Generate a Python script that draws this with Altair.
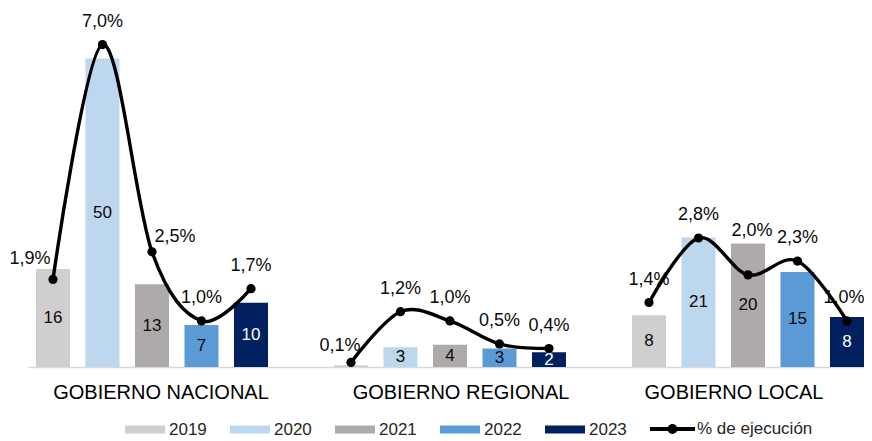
import altair as alt
import pandas as pd

groups = ["GOBIERNO NACIONAL", "GOBIERNO REGIONAL", "GOBIERNO LOCAL"]
years = ["2019", "2020", "2021", "2022", "2023"]
amounts_nacional = [15.9, 50, 13.4, 6.8, 10.4]
amounts_regional = [0.3, 3.2, 3.6, 3.0, 2.4]
amounts_local = [8.4, 21, 20, 15.4, 8.1]
pct_nacional = [1.9, 7.0, 2.5, 1.0, 1.7]
pct_regional = [0.1, 1.2, 1.0, 0.5, 0.4]
pct_local = [1.4, 2.8, 2.0, 2.3, 1.0]
year_colors = ["#D0CECE", "#BDD7EE", "#AEAAAA", "#5B9BD5", "#002060"]
line_name = "% de ejecución"

rows = []
for g, amts, pcts in zip(groups,
                         [amounts_nacional, amounts_regional, amounts_local],
                         [pct_nacional, pct_regional, pct_local]):
    for y, a, p in zip(years, amts, pcts):
        rows.append({"grupo": g, "anio": y, "monto": a, "pct": p, "serie": line_name})
df = pd.DataFrame(rows)

FONT = "Liberation Sans"
W, H = 836, 345.5

label_offset = {
    "condition": [
        {"test": "datum.value == 'GOBIERNO NACIONAL'", "value": 9},
        {"test": "datum.value == 'GOBIERNO REGIONAL'", "value": 11},
    ],
    "value": -14,
}

x_enc = alt.X("grupo:N", sort=groups, title=None,
              scale=alt.Scale(paddingInner=0.2215, paddingOuter=0.0134, align=1),
              axis=alt.Axis(labelAngle=0, ticks=False, domainColor="#D9D9D9",
                            domainWidth=1.3, labelFontSize=20, labelColor="black",
                            labelPadding=15, labelFont=FONT, grid=False, labelLimit=0,
                            labelOffset=label_offset))
xo_enc = alt.XOffset("anio:N", sort=years,
                     scale=alt.Scale(paddingInner=0.313, paddingOuter=0))

bar_scale = alt.Scale(domain=[0, 56], nice=False, zero=True)
pct_scale = alt.Scale(domain=[0, 7.5], nice=False, zero=True)

base = alt.Chart(df)

bars = base.mark_bar().encode(
    x=x_enc, xOffset=xo_enc,
    y=alt.Y("monto:Q", scale=bar_scale, axis=None),
    color=alt.Color("anio:N", sort=years,
                    scale=alt.Scale(domain=years, range=year_colors),
                    legend=alt.Legend(title=None, orient="none", direction="horizontal",
                                      legendX=97, legendY=388,
                                      symbolType="M-1,-0.2H1V0.2H-1Z", symbolSize=1600,
                                      symbolStrokeWidth=0, labelFontSize=17, labelFont=FONT,
                                      labelColor="#262626", labelOffset=4, columnPadding=23)),
)

bar_text = base.transform_filter("datum.monto >= 1").transform_calculate(
    mid="datum.monto / 2", lbl="format(datum.monto, '.0f')"
).mark_text(fontSize=17, font=FONT, baseline="middle").encode(
    x=x_enc, xOffset=xo_enc,
    y=alt.Y("mid:Q", scale=bar_scale, axis=None),
    text="lbl:N",
    color=alt.condition("datum.anio == '2023'", alt.value("white"), alt.value("#0a0a0a")),
)

line = base.mark_line(interpolate="cardinal", color="black", strokeWidth=3.4).encode(
    x=x_enc, xOffset=xo_enc,
    y=alt.Y("pct:Q", scale=pct_scale, axis=None),
    detail="grupo:N",
)

points = base.mark_point(filled=True, size=85, opacity=1).encode(
    x=x_enc, xOffset=xo_enc,
    y=alt.Y("pct:Q", scale=pct_scale, axis=None),
    color=alt.Color("serie:N", scale=alt.Scale(domain=[line_name], range=["black"]),
                    legend=alt.Legend(title=None, orient="none", direction="horizontal",
                                      legendX=622, legendY=385,
                                      symbolType="M-1,-0.09H1V0.09H-1Z M-0.22,0A0.22,0.22 0 1,1 0.22,0A0.22,0.22 0 1,1 -0.22,0Z",
                                      symbolSize=2025, symbolStrokeWidth=0,
                                      labelFontSize=17, labelFont=FONT, labelColor="#262626",
                                      labelOffset=2)),
)

pct_base = base.transform_calculate(
    lbl="replace(format(datum.pct, '.1f'), '.', ',') + '%'"
)

special = {
    ("GOBIERNO NACIONAL", "2019"): (-23, -20),
    ("GOBIERNO NACIONAL", "2021"): (23, -15),
    ("GOBIERNO LOCAL", "2021"): (4, -44),
    ("GOBIERNO REGIONAL", "2019"): (-11, -16),
    ("GOBIERNO LOCAL", "2023"): (-3, -23),
}

def pct_layer(filter_expr, dx, dy):
    return pct_base.transform_filter(filter_expr).mark_text(
        fontSize=18, font=FONT, color="#0a0a0a", baseline="middle", dx=dx, dy=dy
    ).encode(
        x=x_enc, xOffset=xo_enc,
        y=alt.Y("pct:Q", scale=pct_scale, axis=None),
        text="lbl:N",
    )

conds = [f"(datum.grupo == '{g}' && datum.anio == '{y}')" for (g, y) in special]
pct_layers = [pct_layer(f"!({' || '.join(conds)})", 0, -23)]
for (g, y), (dx, dy) in special.items():
    pct_layers.append(pct_layer(f"datum.grupo == '{g}' && datum.anio == '{y}'", dx, dy))

chart = alt.layer(bars, bar_text, line, points, *pct_layers).resolve_scale(
    y="independent", color="independent"
).properties(
    width=W, height=H,
    background="white",
    padding={"left": 20, "top": 13.5, "right": 0, "bottom": 74},
    autosize=alt.AutoSizeParams(type="none"),
).configure_view(
    strokeWidth=0, stroke="transparent"
).configure_axisY(
    domain=False, ticks=False, labels=False, grid=False
).configure_axisX(
    grid=False
)

chart.save("out.html", embed_options={"renderer": "svg", "actions": False})
